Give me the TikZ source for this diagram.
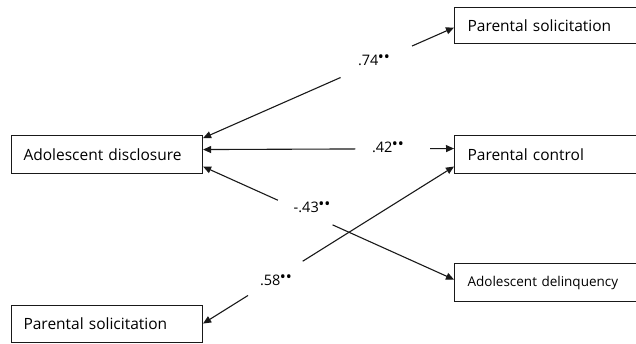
\documentclass[tikz,border=0pt]{standalone}
\usepackage{fontspec}
\setmainfont{Open Sans}
\usetikzlibrary{arrows.meta,calc}
\newcommand{\sig}{\raisebox{0.22em}{\fontsize{16}{16}\selectfont\kern-0.5pt••}}
\tikzset{
  box/.style={draw=black!90, line width=1.1pt, anchor=north west, inner xsep=12pt, inner ysep=0pt,
    align=left, font=\fontsize{15.5}{18}\selectfont, text=black},
  conn/.style={line width=1.1pt, draw=black!90, -{Triangle[length=8pt,width=7pt]}},
  lbl/.style={font=\fontsize{14.5}{17}\selectfont, text=black, inner sep=0pt}
}
\begin{document}
\begin{tikzpicture}[x=1pt,y=-1pt]
\useasboundingbox (0,0) rectangle (636,343);
\clip (0,0) rectangle (636,343);
% boxes
\node[box, minimum height=38pt, text width=167pt] (dis) at (11,135) {Adolescent disclosure};
\node[box, minimum height=36pt, text width=176pt, inner xsep=13pt] (ps1) at (454,7) {Parental solicitation};
\node[box, minimum height=38pt, text width=176pt, inner xsep=13pt] (pc) at (454,135) {Parental control};
\node[box, minimum height=38pt, text width=176pt, inner xsep=13pt, font=\fontsize{13.5}{16}\selectfont] (del) at (454,263) {Adolescent delinquency};
\node[box, minimum height=37pt, text width=167pt] (ps2) at (11,305) {Parental solicitation};
% connector ends
\coordinate (d1) at ($(dis.east)+(0,-16.5)$);
\coordinate (d2) at ($(dis.east)+(0,-5)$);
\coordinate (d3) at ($(dis.east)+(0,12)$);
\coordinate (p1) at ($(ps1.west)+(0,2)$);
\coordinate (c1) at ($(pc.west)+(0,-6)$);
\coordinate (c2) at ($(pc.west)+(0,12)$);
\coordinate (e1) at ($(del.west)+(0,-3)$);
\coordinate (s1) at ($(ps2.east)+(0,-0.5)$);
% gap points
\coordinate (g1a) at ($(d1)!0.548!(p1)$);
\coordinate (g1b) at ($(d1)!0.833!(p1)$);
\coordinate (g2a) at ($(d2)!0.607!(c1)$);
\coordinate (g2b) at ($(d2)!0.905!(c1)$);
\coordinate (g3a) at ($(d3)!0.298!(e1)$);
\coordinate (g3b) at ($(d3)!0.516!(e1)$);
\coordinate (g4a) at ($(s1)!0.179!(c2)$);
\coordinate (g4b) at ($(s1)!0.397!(c2)$);
% connectors
\draw[conn] (g1a) -- (d1);
\draw[conn] (g1b) -- (p1);
\draw[conn] (g2a) -- (d2);
\draw[conn] (g2b) -- (c1);
\draw[conn] (g3a) -- (d3);
\draw[conn] (g3b) -- (e1);
\draw[conn] (g4a) -- (s1);
\draw[conn] (g4b) -- (c2);
% labels
\node[lbl] (l1) at (374,60) {.74\sig};
\node[lbl] (l2) at (388,147) {.42\sig};
\node[lbl] (l3) at (312,207) {-.43\sig};
\node[lbl] (l4) at (276,280) {.58\sig};
\end{tikzpicture}
\end{document}
